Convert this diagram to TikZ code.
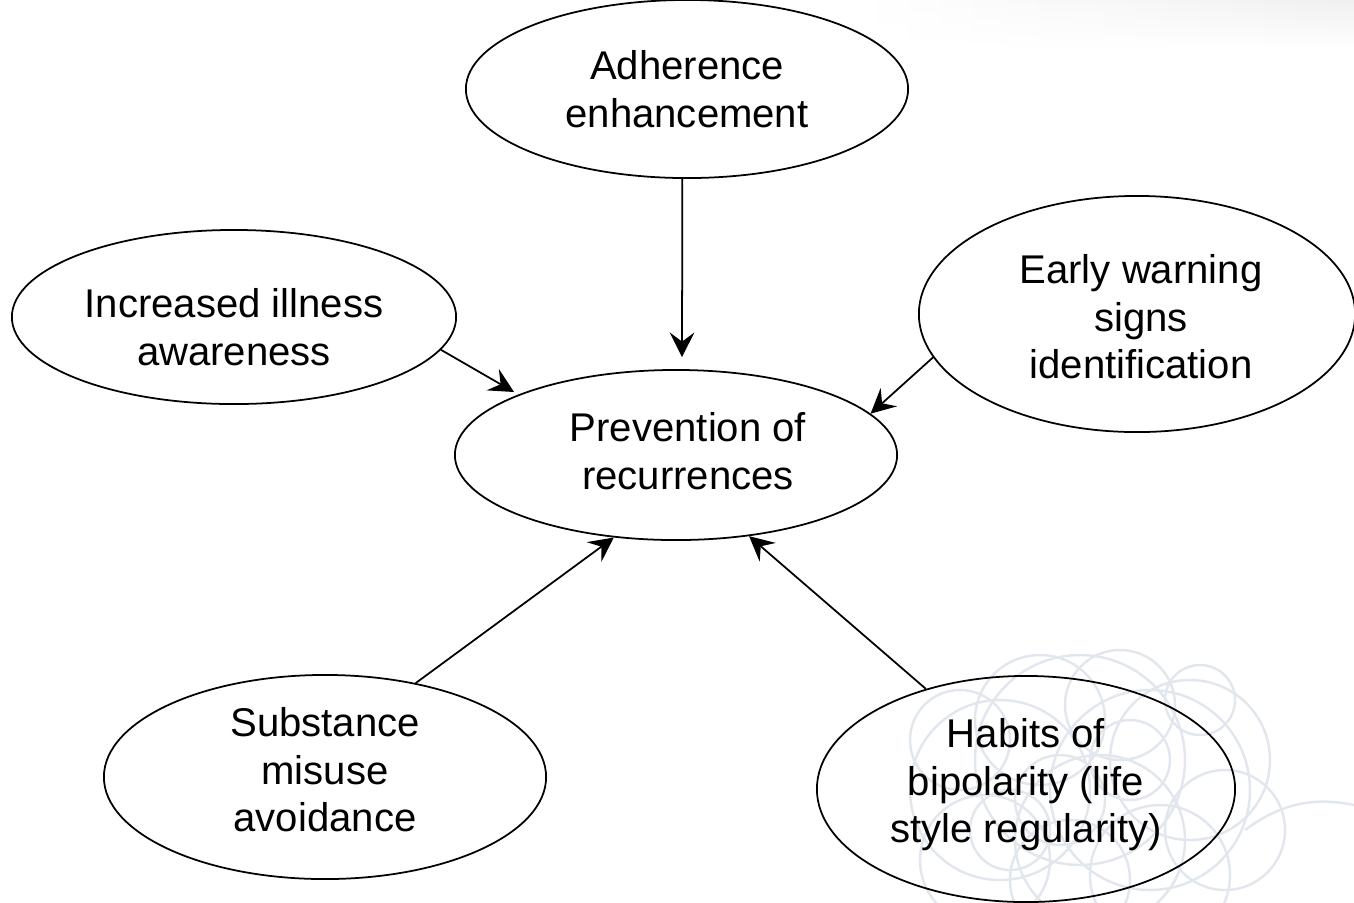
\documentclass[tikz,border=0pt]{standalone}
\usepackage{fontspec}
\setmainfont{Liberation Sans}
\usetikzlibrary{shapes.geometric,arrows.meta,fadings}
\definecolor{scrib}{HTML}{E2E6ED}
\tikzset{
  oval/.style={ellipse,draw=black,line width=0.5pt,inner sep=0pt},
  txt/.style={align=center,inner sep=0pt,font=\fontsize{11.4}{13.5}\selectfont},
  arr/.style={line width=0.5pt,-{Stealth[length=7pt,width=7pt,inset=2.6pt]}},
  scribble/.style={draw=scrib,line width=0.7pt}
}
\begin{document}
\begin{tikzpicture}[x=0.01cm,y=-0.01cm]
\useasboundingbox (0,0) rectangle (1354,902);
% faint top-right shading
\shade[left color=white,right color=black!6,path fading=south] (860,0) rectangle (1354,50);
% faint background scribble
\foreach \cx/\cy/\r in {1000/790/90,1080/760/105,1150/790/100,1100/840/85,1190/760/80,
  1040/720/65,1120/705/55,1225/830/60,985/860/65,1070/880/60,1160/875/70,960/740/50,
  1060/800/45,1130/760/40,1010/830/40,1200/700/35}{
  \draw[scribble] (\cx,\cy) circle[radius=\r*0.01cm];
}
\draw[scribble] (1245,830) .. controls (1285,800) and (1320,798) .. (1354,805);
% nodes
\node[oval,minimum width=4.42cm,minimum height=1.78cm,
  label={[txt]center:Adherence\\enhancement}] (adh) at (687,89) {};
\node[oval,minimum width=4.44cm,minimum height=1.74cm,
  label={[txt,yshift=-0.10cm]center:Increased illness\\awareness}] (inc) at (234,317) {};
\node[oval,minimum width=4.36cm,minimum height=2.36cm,
  label={[txt,xshift=0.04cm,yshift=-0.03cm]center:Early warning\\signs\\identification}] (ews) at (1137,314) {};
\node[oval,minimum width=4.42cm,minimum height=1.70cm,
  label={[txt,xshift=0.12cm,yshift=0.04cm]center:Prevention of\\recurrences}] (prev) at (676,455) {};
\node[oval,minimum width=4.42cm,minimum height=2.04cm,
  label={[txt,yshift=0.07cm]center:Substance\\misuse\\avoidance}] (sub) at (325,777) {};
\node[oval,minimum width=4.18cm,minimum height=2.26cm,
  label={[txt,yshift=0.04cm]center:Habits of\\bipolarity (life\\style regularity)}] (hab) at (1026,789) {};
% connectors
\draw[arr,shorten >=0.12cm] (adh.-93.9) -- (prev.86.6);
\draw[arr,shorten >=0.05cm] (inc.-9) -- (prev.159);
\draw[arr] (ews.192) -- (prev.12);
\draw[arr] (sub.46) -- (prev.233);
\draw[arr] (hab.135) -- (prev.-48);
\end{tikzpicture}
\end{document}
